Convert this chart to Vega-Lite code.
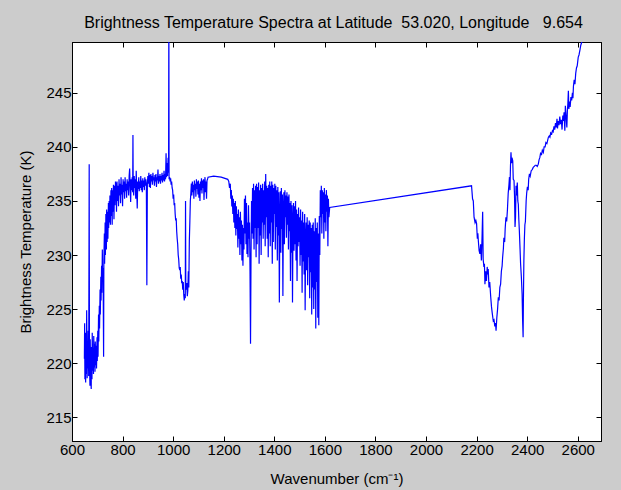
{
  "$schema": "https://vega.github.io/schema/vega-lite/v6.json",
  "width": 529,
  "height": 399,
  "autosize": {"type": "none"},
  "padding": {"left": 72, "top": 42, "right": 20, "bottom": 49},
  "background": "#cccccc",
  "view": {"fill": "white", "stroke": "black", "strokeWidth": 1},
  "config": {
    "font": "Liberation Sans",
    "axis": {"grid": false, "domainColor": "black", "tickColor": "black", "labelColor": "black", "titleColor": "black", "labelFont": "Liberation Sans", "titleFont": "Liberation Sans", "labelFontSize": 15, "titleFontSize": 15, "titleFontWeight": "normal", "tickSize": -5, "domain": true, "format": "d"}
  },
  "title": {"text": "Brightness Temperature Spectra at Latitude\u00a0 53.020, Longitude\u00a0\u00a0 9.654", "anchor": "middle", "fontSize": 16, "fontWeight": "normal", "font": "Liberation Sans", "color": "black", "offset": 11, "dx": -3},
  "data": {"values": [
{"wn":649,"bt":220.4},{"wn":650,"bt":223.7},{"wn":651,"bt":218.5},{"wn":652,"bt":221.5},{"wn":654,"bt":218.2},{"wn":655,"bt":222.8},{"wn":657,"bt":219.0},{"wn":658,"bt":224.9},{"wn":660,"bt":218.6},{"wn":661,"bt":222.0},{"wn":663,"bt":219.5},{"wn":664,"bt":223.0},{"wn":666,"bt":218.8},{"wn":668,"bt":238.4},{"wn":669,"bt":220.5},{"wn":671,"bt":217.9},{"wn":672,"bt":222.2},{"wn":674,"bt":218.8},{"wn":676,"bt":217.6},{"wn":677,"bt":221.5},{"wn":679,"bt":218.5},{"wn":680,"bt":222.8},{"wn":682,"bt":219.3},{"wn":683,"bt":221.2},{"wn":685,"bt":219.0},{"wn":686,"bt":222.5},{"wn":688,"bt":219.6},{"wn":689,"bt":221.8},{"wn":691,"bt":219.2},{"wn":692,"bt":222.0},{"wn":694,"bt":219.8},{"wn":696,"bt":221.6},{"wn":697,"bt":219.5},{"wn":699,"bt":222.4},{"wn":700,"bt":220.2},{"wn":702,"bt":223.0},{"wn":703,"bt":220.6},{"wn":705,"bt":224.5},{"wn":706,"bt":222.0},{"wn":708,"bt":225.3},{"wn":709,"bt":223.2},{"wn":711,"bt":226.8},{"wn":712,"bt":224.5},{"wn":714,"bt":228.0},{"wn":715,"bt":225.8},{"wn":717,"bt":229.0},{"wn":718,"bt":226.5},{"wn":720,"bt":230.5},{"wn":721,"bt":227.5},{"wn":723,"bt":228.8},{"wn":725,"bt":220.6},{"wn":726,"bt":229.5},{"wn":728,"bt":232.0},{"wn":729,"bt":229.2},{"wn":731,"bt":233.0},{"wn":732,"bt":230.0},{"wn":734,"bt":233.8},{"wn":736,"bt":230.5},{"wn":737,"bt":234.2},{"wn":739,"bt":231.2},{"wn":740,"bt":234.0},{"wn":742,"bt":231.5},{"wn":744,"bt":234.8},{"wn":745,"bt":232.5},{"wn":747,"bt":235.0},{"wn":749,"bt":233.0},{"wn":750,"bt":235.5},{"wn":752,"bt":232.8},{"wn":754,"bt":236.0},{"wn":755,"bt":233.6},{"wn":757,"bt":236.2},{"wn":759,"bt":232.8},{"wn":760,"bt":236.0},{"wn":762,"bt":234.0},{"wn":764,"bt":236.5},{"wn":766,"bt":233.3},{"wn":768,"bt":236.4},{"wn":770,"bt":234.6},{"wn":772,"bt":236.8},
{"wn":774,"bt":236.5},{"wn":776,"bt":234.0},{"wn":778,"bt":236.8},{"wn":780,"bt":235.0},{"wn":782,"bt":236.4},{"wn":784,"bt":234.5},{"wn":786,"bt":237.0},{"wn":788,"bt":235.5},{"wn":790,"bt":236.6},{"wn":792,"bt":234.8},{"wn":794,"bt":237.2},{"wn":796,"bt":235.6},{"wn":798,"bt":236.5},{"wn":800,"bt":234.5},{"wn":802,"bt":237.0},{"wn":804,"bt":235.8},{"wn":806,"bt":236.8},{"wn":808,"bt":235.2},{"wn":810,"bt":237.2},{"wn":812,"bt":235.9},{"wn":814,"bt":236.6},{"wn":816,"bt":235.3},{"wn":818,"bt":237.0},{"wn":820,"bt":236.0},{"wn":822,"bt":236.8},{"wn":824,"bt":235.5},{"wn":826,"bt":237.3},{"wn":828,"bt":238.0},{"wn":830,"bt":236.2},{"wn":832,"bt":234.9},{"wn":834,"bt":237.0},{"wn":836,"bt":236.0},{"wn":838,"bt":237.2},{"wn":840,"bt":235.8},{"wn":841,"bt":241.1},{"wn":842,"bt":236.5},{"wn":844,"bt":235.5},{"wn":846,"bt":237.3},{"wn":848,"bt":236.2},{"wn":850,"bt":237.0},{"wn":852,"bt":235.2},{"wn":854,"bt":237.8},{"wn":856,"bt":236.0},{"wn":858,"bt":234.3},{"wn":860,"bt":236.8},{"wn":862,"bt":236.1},{"wn":864,"bt":237.2},{"wn":866,"bt":235.9},{"wn":868,"bt":236.8},{"wn":870,"bt":236.2},{"wn":872,"bt":237.3},{"wn":874,"bt":236.0},{"wn":876,"bt":236.9},{"wn":878,"bt":235.8},{"wn":880,"bt":237.1},{"wn":882,"bt":236.3},{"wn":884,"bt":236.9},{"wn":886,"bt":236.0},{"wn":888,"bt":237.2},{"wn":890,"bt":236.4},{"wn":892,"bt":237.0},{"wn":894,"bt":236.5},{"wn":896,"bt":227.2},{"wn":898,"bt":236.6},{"wn":900,"bt":237.3},{"wn":902,"bt":236.6},{"wn":904,"bt":237.6},{"wn":906,"bt":236.3},{"wn":908,"bt":237.4},{"wn":910,"bt":236.2},{"wn":912,"bt":237.5},{"wn":914,"bt":236.8},{"wn":916,"bt":237.3},{"wn":918,"bt":236.5},{"wn":920,"bt":237.6},{"wn":922,"bt":236.9},{"wn":924,"bt":237.2},{"wn":926,"bt":236.4},{"wn":928,"bt":237.4},{"wn":930,"bt":236.8},{"wn":932,"bt":237.5},{"wn":934,"bt":236.3},{"wn":936,"bt":237.2},{"wn":938,"bt":236.9},{"wn":940,"bt":237.9},{"wn":942,"bt":236.6},{"wn":944,"bt":237.3},{"wn":946,"bt":236.8},{"wn":948,"bt":237.5},{"wn":950,"bt":236.6},{"wn":952,"bt":237.3},{"wn":954,"bt":236.9},{"wn":956,"bt":237.6},{"wn":958,"bt":236.7},{"wn":960,"bt":237.4},{"wn":962,"bt":236.9},{"wn":964,"bt":237.8},{"wn":966,"bt":236.8},{"wn":968,"bt":237.5},{"wn":970,"bt":237.0},{"wn":972,"bt":239.4},{"wn":974,"bt":237.2},{"wn":976,"bt":238.5},{"wn":978,"bt":237.3},{"wn":980,"bt":239.0},{"wn":982,"bt":237.6},{"wn":983,"bt":253.0},{"wn":984,"bt":237.0},{"wn":986,"bt":237.2},
{"wn":988,"bt":236.8},{"wn":990,"bt":237.1},{"wn":992,"bt":236.5},{"wn":994,"bt":236.8},{"wn":996,"bt":236.2},{"wn":998,"bt":236.0},{"wn":1000,"bt":235.2},{"wn":1002,"bt":235.6},{"wn":1004,"bt":234.6},{"wn":1006,"bt":234.8},{"wn":1008,"bt":233.8},{"wn":1010,"bt":233.2},{"wn":1012,"bt":233.4},{"wn":1014,"bt":232.2},{"wn":1016,"bt":231.5},{"wn":1018,"bt":231.0},{"wn":1020,"bt":230.0},{"wn":1022,"bt":229.6},{"wn":1024,"bt":228.8},{"wn":1026,"bt":228.6},{"wn":1028,"bt":228.9},{"wn":1030,"bt":227.8},{"wn":1032,"bt":228.2},{"wn":1034,"bt":227.4},{"wn":1036,"bt":227.6},{"wn":1038,"bt":226.8},{"wn":1040,"bt":227.5},{"wn":1042,"bt":226.3},{"wn":1044,"bt":225.8},{"wn":1046,"bt":226.4},{"wn":1048,"bt":226.0},{"wn":1049,"bt":235.0},{"wn":1050,"bt":227.2},{"wn":1052,"bt":226.8},{"wn":1054,"bt":227.4},{"wn":1056,"bt":226.2},{"wn":1058,"bt":226.7},{"wn":1060,"bt":228.5},{"wn":1062,"bt":227.0},{"wn":1064,"bt":231.3},{"wn":1066,"bt":233.0},{"wn":1068,"bt":235.0},{"wn":1070,"bt":235.7},{"wn":1072,"bt":236.6},
{"wn":1074,"bt":235.5},{"wn":1076,"bt":236.8},{"wn":1078,"bt":235.8},{"wn":1080,"bt":236.5},{"wn":1082,"bt":235.2},{"wn":1084,"bt":236.9},{"wn":1086,"bt":236.0},{"wn":1088,"bt":236.6},{"wn":1090,"bt":235.4},{"wn":1092,"bt":237.0},{"wn":1094,"bt":236.1},{"wn":1096,"bt":236.8},{"wn":1098,"bt":235.6},{"wn":1100,"bt":236.9},{"wn":1102,"bt":235.3},{"wn":1104,"bt":236.6},{"wn":1106,"bt":235.0},{"wn":1108,"bt":236.8},{"wn":1110,"bt":236.0},{"wn":1112,"bt":237.1},{"wn":1114,"bt":235.7},{"wn":1116,"bt":236.9},{"wn":1118,"bt":236.2},{"wn":1120,"bt":237.0},{"wn":1122,"bt":235.1},{"wn":1124,"bt":236.5},{"wn":1126,"bt":237.2},{"wn":1128,"bt":235.8},{"wn":1130,"bt":236.8},{"wn":1132,"bt":235.2},{"wn":1134,"bt":236.9},{"wn":1136,"bt":237.0},{"wn":1138,"bt":237.2},{"wn":1160,"bt":237.3},{"wn":1190,"bt":237.2},{"wn":1216,"bt":237.0},
{"wn":1220,"bt":236.8},{"wn":1223,"bt":236.2},{"wn":1226,"bt":236.6},{"wn":1228,"bt":235.2},{"wn":1230,"bt":236.0},{"wn":1232,"bt":234.5},{"wn":1234,"bt":235.5},{"wn":1236,"bt":233.8},{"wn":1238,"bt":235.2},{"wn":1240,"bt":233.0},{"wn":1242,"bt":234.8},{"wn":1244,"bt":232.5},{"wn":1246,"bt":235.0},{"wn":1248,"bt":231.8},{"wn":1250,"bt":234.5},{"wn":1252,"bt":232.4},{"wn":1254,"bt":233.8},{"wn":1256,"bt":230.7},{"wn":1258,"bt":234.2},{"wn":1260,"bt":231.5},{"wn":1262,"bt":233.5},{"wn":1264,"bt":230.0},{"wn":1266,"bt":234.0},{"wn":1268,"bt":231.0},{"wn":1270,"bt":233.2},{"wn":1272,"bt":229.5},{"wn":1274,"bt":232.8},{"wn":1276,"bt":229.0},{"wn":1278,"bt":232.5},{"wn":1280,"bt":230.5},{"wn":1282,"bt":235.2},{"wn":1284,"bt":232.0},{"wn":1286,"bt":235.5},{"wn":1288,"bt":231.0},{"wn":1290,"bt":234.8},{"wn":1292,"bt":230.1},{"wn":1294,"bt":233.0},{"wn":1296,"bt":229.8},{"wn":1298,"bt":234.6},{"wn":1300,"bt":231.5},{"wn":1302,"bt":233.0},{"wn":1304,"bt":228.5},{"wn":1306,"bt":221.8},{"wn":1308,"bt":230.0},{"wn":1310,"bt":235.0},{"wn":1312,"bt":232.0},{"wn":1314,"bt":236.2},{"wn":1316,"bt":231.5},{"wn":1318,"bt":236.6},{"wn":1320,"bt":230.5},{"wn":1322,"bt":236.0},{"wn":1324,"bt":232.5},{"wn":1326,"bt":236.4},{"wn":1328,"bt":229.8},{"wn":1330,"bt":236.6},{"wn":1332,"bt":231.0},{"wn":1334,"bt":236.3},{"wn":1336,"bt":232.5},{"wn":1338,"bt":236.7},{"wn":1340,"bt":229.2},{"wn":1342,"bt":236.0},{"wn":1344,"bt":231.8},{"wn":1346,"bt":236.5},{"wn":1348,"bt":230.0},{"wn":1350,"bt":236.2},{"wn":1352,"bt":233.0},{"wn":1354,"bt":236.6},{"wn":1356,"bt":231.5},{"wn":1358,"bt":236.0},{"wn":1360,"bt":232.8},{"wn":1362,"bt":236.8},{"wn":1364,"bt":230.8},{"wn":1366,"bt":237.5},{"wn":1368,"bt":233.5},{"wn":1370,"bt":236.4},{"wn":1372,"bt":231.5},{"wn":1374,"bt":236.2},{"wn":1376,"bt":229.8},{"wn":1378,"bt":236.5},{"wn":1380,"bt":232.0},{"wn":1382,"bt":236.8},{"wn":1384,"bt":230.8},{"wn":1386,"bt":236.4},{"wn":1388,"bt":233.0},{"wn":1390,"bt":236.8},{"wn":1392,"bt":229.2},{"wn":1394,"bt":236.5},{"wn":1396,"bt":231.2},{"wn":1398,"bt":236.2},{"wn":1400,"bt":233.8},{"wn":1402,"bt":236.6},{"wn":1404,"bt":230.5},{"wn":1406,"bt":236.4},{"wn":1408,"bt":232.6},{"wn":1410,"bt":236.0},{"wn":1412,"bt":229.5},{"wn":1414,"bt":236.3},{"wn":1416,"bt":231.8},{"wn":1418,"bt":235.8},{"wn":1420,"bt":225.6},{"wn":1422,"bt":233.5},{"wn":1424,"bt":235.9},{"wn":1426,"bt":230.2},{"wn":1428,"bt":236.2},{"wn":1430,"bt":232.4},{"wn":1432,"bt":235.6},{"wn":1434,"bt":226.2},{"wn":1436,"bt":234.2},{"wn":1438,"bt":235.8},{"wn":1440,"bt":231.0},{"wn":1442,"bt":236.0},{"wn":1444,"bt":233.5},{"wn":1446,"bt":235.5},{"wn":1448,"bt":231.6},{"wn":1450,"bt":235.8},{"wn":1452,"bt":232.8},{"wn":1454,"bt":235.4},{"wn":1456,"bt":230.5},{"wn":1458,"bt":235.6},{"wn":1460,"bt":232.2},{"wn":1462,"bt":234.8},{"wn":1464,"bt":227.6},{"wn":1466,"bt":235.0},{"wn":1468,"bt":230.2},{"wn":1470,"bt":234.6},{"wn":1472,"bt":225.6},{"wn":1474,"bt":233.0},{"wn":1476,"bt":234.8},{"wn":1478,"bt":230.4},{"wn":1480,"bt":234.5},{"wn":1482,"bt":231.0},{"wn":1484,"bt":235.0},{"wn":1486,"bt":229.5},{"wn":1488,"bt":234.2},{"wn":1490,"bt":227.6},{"wn":1492,"bt":233.8},{"wn":1494,"bt":230.8},{"wn":1496,"bt":234.4},{"wn":1498,"bt":231.2},{"wn":1500,"bt":233.5},{"wn":1502,"bt":229.0},{"wn":1504,"bt":234.2},{"wn":1506,"bt":230.0},{"wn":1508,"bt":233.2},{"wn":1510,"bt":226.5},{"wn":1512,"bt":234.0},{"wn":1514,"bt":229.4},{"wn":1516,"bt":233.0},{"wn":1518,"bt":228.2},{"wn":1520,"bt":233.8},{"wn":1522,"bt":224.9},{"wn":1524,"bt":231.5},{"wn":1526,"bt":233.0},{"wn":1528,"bt":228.6},{"wn":1530,"bt":233.5},{"wn":1532,"bt":227.2},{"wn":1534,"bt":232.8},{"wn":1536,"bt":229.8},{"wn":1538,"bt":233.2},{"wn":1540,"bt":226.0},{"wn":1542,"bt":233.0},{"wn":1544,"bt":228.4},{"wn":1546,"bt":232.5},{"wn":1548,"bt":224.5},{"wn":1550,"bt":232.8},{"wn":1552,"bt":227.0},{"wn":1554,"bt":233.0},{"wn":1556,"bt":225.0},{"wn":1558,"bt":232.2},{"wn":1560,"bt":226.8},{"wn":1562,"bt":233.4},{"wn":1564,"bt":223.2},{"wn":1566,"bt":232.5},{"wn":1568,"bt":227.5},{"wn":1570,"bt":233.0},{"wn":1572,"bt":224.2},{"wn":1574,"bt":232.0},{"wn":1576,"bt":223.5},{"wn":1578,"bt":233.6},{"wn":1580,"bt":230.0},{"wn":1582,"bt":236.0},{"wn":1584,"bt":233.5},{"wn":1586,"bt":236.4},{"wn":1588,"bt":232.0},{"wn":1590,"bt":236.0},{"wn":1592,"bt":233.8},{"wn":1594,"bt":235.8},{"wn":1596,"bt":231.5},{"wn":1598,"bt":236.2},{"wn":1600,"bt":233.0},{"wn":1602,"bt":235.6},{"wn":1604,"bt":232.2},{"wn":1606,"bt":236.0},{"wn":1608,"bt":234.0},{"wn":1610,"bt":235.5},{"wn":1612,"bt":230.8},{"wn":1614,"bt":235.2},{"wn":1616,"bt":233.5},{"wn":1619,"bt":234.4},
{"wn":2180,"bt":236.4},{"wn":2184,"bt":235.2},{"wn":2187,"bt":235.0},{"wn":2190,"bt":233.5},{"wn":2194,"bt":233.0},{"wn":2197,"bt":233.2},{"wn":2200,"bt":232.9},{"wn":2203,"bt":231.5},{"wn":2205,"bt":232.0},{"wn":2207,"bt":231.3},{"wn":2210,"bt":230.4},{"wn":2213,"bt":230.1},{"wn":2216,"bt":231.0},{"wn":2219,"bt":229.5},{"wn":2222,"bt":232.0},{"wn":2224,"bt":234.0},{"wn":2226,"bt":229.6},{"wn":2229,"bt":228.9},{"wn":2231,"bt":229.2},{"wn":2233,"bt":227.3},{"wn":2236,"bt":228.5},{"wn":2239,"bt":227.6},{"wn":2242,"bt":228.9},{"wn":2244,"bt":228.2},{"wn":2246,"bt":228.7},{"wn":2249,"bt":227.0},{"wn":2252,"bt":227.5},{"wn":2256,"bt":226.1},{"wn":2259,"bt":225.2},{"wn":2262,"bt":224.6},{"wn":2266,"bt":223.9},{"wn":2269,"bt":224.0},{"wn":2272,"bt":223.4},{"wn":2275,"bt":223.7},{"wn":2277,"bt":223.0},{"wn":2280,"bt":224.2},{"wn":2283,"bt":225.0},{"wn":2286,"bt":226.1},{"wn":2289,"bt":225.8},{"wn":2292,"bt":227.0},{"wn":2295,"bt":227.3},{"wn":2298,"bt":228.5},{"wn":2301,"bt":229.0},{"wn":2303,"bt":229.8},{"wn":2306,"bt":230.6},{"wn":2308,"bt":231.6},{"wn":2311,"bt":231.2},{"wn":2313,"bt":232.4},{"wn":2316,"bt":233.5},{"wn":2319,"bt":233.1},{"wn":2322,"bt":234.2},{"wn":2325,"bt":235.7},{"wn":2328,"bt":236.5},{"wn":2330,"bt":237.2},{"wn":2332,"bt":236.0},{"wn":2334,"bt":238.2},{"wn":2336,"bt":239.5},{"wn":2338,"bt":238.5},{"wn":2340,"bt":239.0},{"wn":2343,"bt":238.7},{"wn":2345,"bt":237.0},{"wn":2348,"bt":236.9},{"wn":2350,"bt":235.5},{"wn":2352,"bt":232.6},{"wn":2354,"bt":233.5},{"wn":2356,"bt":236.4},{"wn":2358,"bt":235.5},{"wn":2361,"bt":236.7},{"wn":2363,"bt":235.0},{"wn":2365,"bt":234.7},{"wn":2367,"bt":233.3},{"wn":2369,"bt":232.3},{"wn":2372,"bt":230.5},{"wn":2374,"bt":229.2},{"wn":2377,"bt":228.0},{"wn":2380,"bt":226.4},{"wn":2382,"bt":224.0},{"wn":2384,"bt":222.4},{"wn":2385,"bt":225.5},{"wn":2387,"bt":229.5},{"wn":2389,"bt":231.5},{"wn":2391,"bt":232.8},{"wn":2393,"bt":233.1},{"wn":2396,"bt":235.0},{"wn":2398,"bt":235.7},{"wn":2401,"bt":236.3},{"wn":2404,"bt":236.0},{"wn":2406,"bt":237.0},{"wn":2409,"bt":237.5},{"wn":2412,"bt":237.3},{"wn":2416,"bt":237.8},{"wn":2420,"bt":237.9},{"wn":2424,"bt":238.1},{"wn":2428,"bt":238.2},{"wn":2432,"bt":238.3},{"wn":2436,"bt":238.3},{"wn":2440,"bt":238.2},{"wn":2444,"bt":238.4},{"wn":2447,"bt":238.8},{"wn":2450,"bt":239.0},{"wn":2453,"bt":239.4},{"wn":2457,"bt":239.3},{"wn":2460,"bt":239.7},{"wn":2464,"bt":239.5},{"wn":2467,"bt":240.0},{"wn":2471,"bt":240.0},{"wn":2474,"bt":240.4},{"wn":2478,"bt":240.3},{"wn":2481,"bt":240.6},{"wn":2484,"bt":240.9},{"wn":2487,"bt":241.0},{"wn":2490,"bt":240.9},{"wn":2493,"bt":241.3},{"wn":2497,"bt":241.2},{"wn":2500,"bt":241.5},{"wn":2503,"bt":241.4},{"wn":2506,"bt":241.9},{"wn":2509,"bt":241.6},{"wn":2512,"bt":242.2},{"wn":2515,"bt":241.8},{"wn":2518,"bt":242.6},{"wn":2520,"bt":241.7},{"wn":2523,"bt":242.4},{"wn":2526,"bt":242.0},{"wn":2529,"bt":242.8},{"wn":2532,"bt":242.1},{"wn":2535,"bt":242.5},{"wn":2538,"bt":241.6},{"wn":2541,"bt":242.9},{"wn":2543,"bt":242.4},{"wn":2546,"bt":243.2},{"wn":2549,"bt":241.5},{"wn":2551,"bt":243.8},{"wn":2554,"bt":242.8},{"wn":2557,"bt":241.8},{"wn":2559,"bt":243.3},{"wn":2561,"bt":244.0},{"wn":2563,"bt":245.2},{"wn":2565,"bt":243.5},{"wn":2568,"bt":244.2},{"wn":2570,"bt":243.7},{"wn":2573,"bt":244.6},{"wn":2576,"bt":244.3},{"wn":2579,"bt":245.0},{"wn":2581,"bt":244.5},{"wn":2583,"bt":245.6},{"wn":2586,"bt":246.2},{"wn":2589,"bt":245.8},{"wn":2592,"bt":246.8},{"wn":2595,"bt":247.3},{"wn":2598,"bt":247.5},{"wn":2602,"bt":248.3},{"wn":2605,"bt":248.5},{"wn":2609,"bt":249.0},{"wn":2612,"bt":249.4},{"wn":2616,"bt":249.7},{"wn":2620,"bt":250.5},{"wn":2625,"bt":251.5}
  ]},
  "layer": [
    {
      "mark": {"type": "line", "color": "#0000ff", "strokeWidth": 1.2, "clip": true, "interpolate": "linear"},
      "encoding": {
        "x": {"field": "wn", "type": "quantitative", "scale": {"domain": [600, 2692], "nice": false, "zero": false},
          "axis": {"orient": "bottom", "values": [600,800,1000,1200,1400,1600,1800,2000,2200,2400,2600], "title": "Wavenumber (cm\u207b\u00b9)", "labelPadding": 6, "titlePadding": 14, "labelFlush": false, "labelOverlap": false}},
        "y": {"field": "bt", "type": "quantitative", "scale": {"domain": [212.8, 249.7], "nice": false, "zero": false},
          "axis": {"orient": "left", "values": [215,220,225,230,235,240,245], "title": "Brightness Temperature (K)", "labelPadding": 6, "titlePadding": 12, "labelFlush": false, "labelOverlap": false}},
        "order": {"field": "wn", "type": "quantitative"}
      }
    },
    {
      "mark": {"type": "line", "opacity": 0, "clip": true},
      "encoding": {
        "x": {"field": "wn", "type": "quantitative", "scale": {"domain": [600, 2692], "nice": false, "zero": false},
          "axis": {"orient": "top", "values": [600,800,1000,1200,1400,1600,1800,2000,2200,2400,2600], "labels": false, "title": null}},
        "y": {"field": "bt", "type": "quantitative", "scale": {"domain": [212.8, 249.7], "nice": false, "zero": false},
          "axis": {"orient": "right", "values": [215,220,225,230,235,240,245], "labels": false, "title": null}}
      }
    }
  ],
  "resolve": {"axis": {"x": "independent", "y": "independent"}}
}
